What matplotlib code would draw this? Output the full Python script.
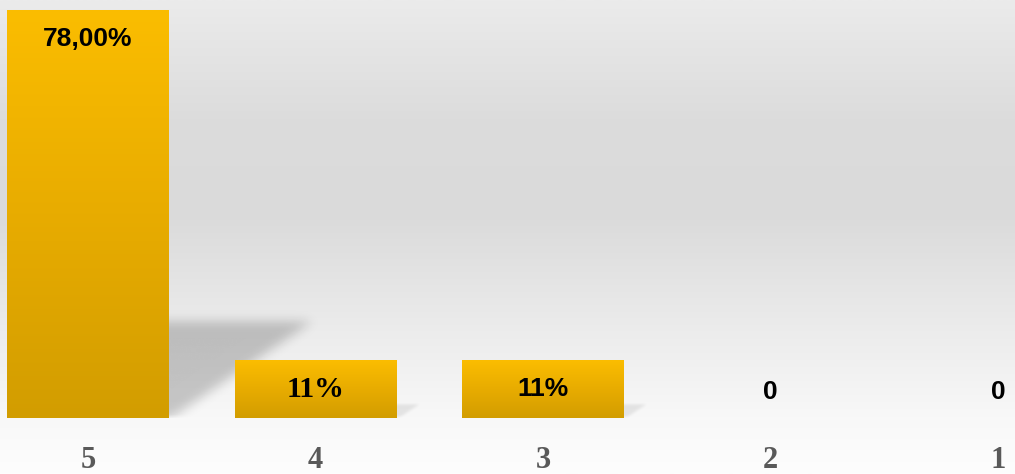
import numpy as np
import matplotlib.pyplot as plt
from matplotlib.colors import LinearSegmentedColormap

categories = ['5', '4', '3', '2', '1']
values = [78.0, 11.0, 11.0, 0.0, 0.0]
value_labels = ['78,00%', '11%', '11%', '0', '0']
# the second label is drawn in a serif face in the original
label_serif = [False, True, False, False, False]


def blur(a, sigma):
    r = int(3 * sigma) + 1
    k = np.exp(-0.5 * (np.arange(-r, r + 1) / sigma) ** 2)
    k /= k.sum()
    a = np.apply_along_axis(lambda m: np.convolve(m, k, mode='same'), 0, a)
    a = np.apply_along_axis(lambda m: np.convolve(m, k, mode='same'), 1, a)
    return a


fig = plt.figure(figsize=(10.15, 4.74), dpi=100)

# background: grey vertical gradient over the whole figure
bg = fig.add_axes([0, 0, 1, 1], zorder=0)
stops = [(0.0, '#fdfdfd'), (0.12, '#f8f8f8'), (0.3, '#ececec'),
         (0.55, '#dadada'), (0.75, '#dcdcdc'), (1.0, '#ebebeb')]
bg_cmap = LinearSegmentedColormap.from_list('bg', stops)
bg.imshow(np.linspace(0, 1, 256).reshape(-1, 1), cmap=bg_cmap, aspect='auto',
          origin='lower', extent=[0, 1, 0, 1])
bg.set_axis_off()

ax = fig.add_axes([0, 56 / 474, 1, 418 / 474], zorder=1)
ax.patch.set_alpha(0)
x = np.arange(len(categories))
width = 0.712

bar_cmap = LinearSegmentedColormap.from_list('gold', ['#d29d00', '#e8ac00', '#fbbd00'])

bars = ax.bar(x, values, width, color='none', edgecolor='none', zorder=3)

for rect, h in zip(bars, values):
    if h <= 0:
        continue
    x0 = rect.get_x()
    x1 = x0 + rect.get_width()
    # soft shadow: blurred triangle to the right of the bar
    sh_h = 0.236 * h
    sh_w = 0.62 * h / 78
    gx = np.linspace(x1 - 0.1, x1 + sh_w + 0.15, 300)
    gy = np.linspace(0, sh_h + 6, 200)
    U, V = np.meshgrid(gx - x1, gy)
    mask = ((V <= sh_h) & (U <= sh_w * V / sh_h + 0.01)).astype(float)
    px = (gx[1] - gx[0]) * 227.5
    sig = max(1.5, 5.5 * h / 78) / px
    soft = blur(mask, sig)
    soft[V < 0.6] *= np.clip(V[V < 0.6] / 0.6, 0, 1) * 0.6 + 0.4
    rgba = np.zeros(soft.shape + (4,))
    rgba[..., 3] = soft * (0.2 if h > 30 else 0.08)
    ax.imshow(rgba, origin='lower', aspect='auto', interpolation='bilinear',
              extent=[gx[0], gx[-1], gy[0], gy[-1]], zorder=2)
    im = ax.imshow(np.linspace(0, 1, 256).reshape(-1, 1), cmap=bar_cmap,
                   aspect='auto', origin='lower', extent=[x0, x1, 0, h], zorder=3)
    im.set_clip_path(rect)

ax.set_xlim(-0.387, 4.075)
ax.set_ylim(0, 79.9)

for xi, h, lab, serif in zip(x, values, value_labels, label_serif):
    if h > 0:
        off = -29
    else:
        off = 26
    fam = 'Liberation Serif' if serif else 'Liberation Sans'
    size = 21.5 if serif else 19
    ax.annotate(lab, (xi, h), xytext=(0, off), textcoords='offset pixels',
                ha='center', va='center', fontsize=size, fontweight='bold',
                family=fam, color='black', zorder=4)

ax.set_xticks(x)
ax.set_xticklabels(categories, family='Liberation Serif', fontweight='bold',
                   fontsize=22, color='#595959')
ax.tick_params(axis='x', length=0, pad=20)
ax.set_yticks([])
for s in ax.spines.values():
    s.set_visible(False)

fig.savefig('out.png', dpi=100)
